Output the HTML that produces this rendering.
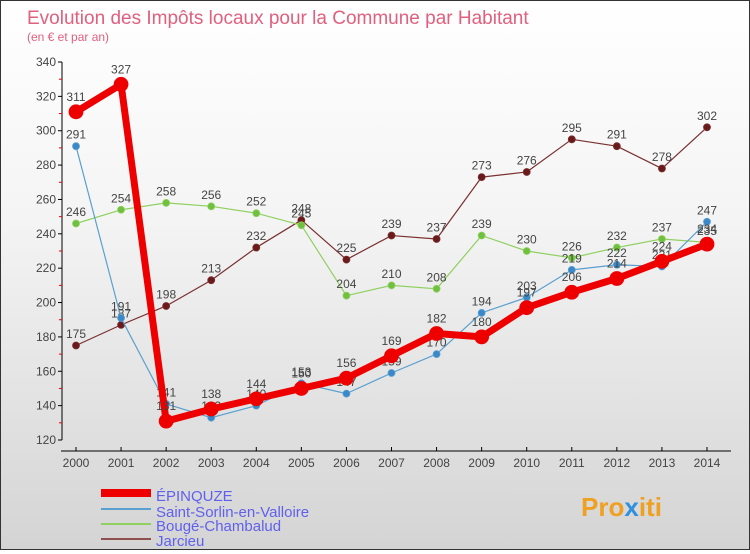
<!DOCTYPE html>
<html><head><meta charset="utf-8"><style>
body{margin:0;width:750px;height:550px;overflow:hidden;font-family:"Liberation Sans",sans-serif;}
#wrap{position:relative;width:748px;height:548px;border:1px solid #333;background:linear-gradient(#ffffff,#f4f4f4 40%,#d4d4d4);}
</style></head><body>
<div id="wrap">
<svg id="chart" width="748" height="548">
<text x="26" y="23" font-size="19" fill="#e0607e">Evolution des Impôts locaux pour la Commune par Habitant</text>
<text x="26" y="40" font-size="12" fill="#e0607e">(en € et par an)</text>
<g id="axes"></g><g id="series"></g>
<g>
<line x1="100" y1="492" x2="150" y2="492" stroke="#ee0000" stroke-width="8"/>
<text x="155" y="500" font-size="15" fill="#6060ee">ÉPINQUZE</text>
<line x1="100" y1="508" x2="150" y2="508" stroke="#5aa0d0" stroke-width="2"/>
<text x="155" y="516" font-size="15" fill="#6060ee">Saint-Sorlin-en-Valloire</text>
<line x1="100" y1="523" x2="150" y2="523" stroke="#90d060" stroke-width="2"/>
<text x="155" y="530" font-size="15" fill="#6060ee">Bougé-Chambalud</text>
<line x1="100" y1="538" x2="150" y2="538" stroke="#905050" stroke-width="2"/>
<text x="155" y="545" font-size="15" fill="#6060ee">Jarcieu</text>
</g>
<text x="580" y="515" font-size="26" font-weight="bold" fill="#f0a020">Pro<tspan fill="#3090e0">x</tspan>iti</text>
</svg>
</div>
<script>
const years=[2000,2001,2002,2003,2004,2005,2006,2007,2008,2009,2010,2011,2012,2013,2014];
const yTicks=[120,140,160,180,200,220,240,260,280,300,320,340];
const epinquze=[311,327,131,138,144,150,156,169,182,180,197,206,214,224,234];
const saintSorlin=[291,191,141,133,140,153,147,159,170,194,203,219,222,221,247];
const bouge=[246,254,258,256,252,245,204,210,208,239,230,226,232,237,235];
const jarcieu=[175,187,198,213,232,248,225,239,237,273,276,295,291,278,302];
const NS="http://www.w3.org/2000/svg";
const X=i=>75+i*(706-75)/(years.length-1);
const Y=v=>61+(340-v)*(439-61)/220;
function mk(tag,attrs,parent){const e=document.createElementNS(NS,tag);for(const k in attrs)e.setAttribute(k,attrs[k]);parent.appendChild(e);return e;}
const ax=document.getElementById('axes');
let a=mk('line',{x1:61,y1:61,x2:61,y2:439,stroke:'#000'},ax);


a=mk('line',{x1:60,y1:450,x2:730,y2:450,stroke:'#000'},ax);


yTicks.forEach((v,i)=>{
 mk('line',{x1:57,y1:Y(v),x2:61,y2:Y(v),stroke:'#000'},ax);
 if(i<yTicks.length-1) mk('line',{x1:58,y1:Y(v+10),x2:61,y2:Y(v+10),stroke:'#e00'},ax);
 const t=mk('text',{x:55,y:Y(v)+4,'font-size':12,fill:'#444','text-anchor':'end'},ax);t.textContent=v;
 
 
});
years.forEach((y,i)=>{
 mk('line',{x1:X(i),y1:446,x2:X(i),y2:450,stroke:'#000'},ax);
 const t=mk('text',{x:X(i),y:466,'font-size':12,fill:'#444','text-anchor':'middle'},ax);t.textContent=y;
 
 
});
const sg=document.getElementById('series');
function series(data,name,color,dot,w,r){
 const g=mk('g',{},sg);
 
 
 const p=mk('polyline',{points:data.map((v,i)=>X(i)+','+Y(v)).join(' '),fill:'none',stroke:color,'stroke-width':w,'stroke-linejoin':'round'},g);
 
 
 data.forEach((v,i)=>{
  const c=mk('circle',{cx:X(i),cy:Y(v),r:r,fill:dot,stroke:color,'stroke-width':0.8},g);
  
  
  const t=mk('text',{x:X(i),y:Y(v)-(r+4),'font-size':12,fill:'#444','text-anchor':'middle'},g);t.textContent=v;
  
  
 });
}
series(jarcieu,'jarcieu','#7a3030','#6a1a1a',1.2,3.5);
series(bouge,'bouge','#90d060','#70c040',1.2,3.5);
series(saintSorlin,'saint-sorlin','#5aa0d0','#3a88c8',1.2,3.5);
series(epinquze,'epinquze','#ee0000','#ee0000',7,7);
</script>
</body></html>
